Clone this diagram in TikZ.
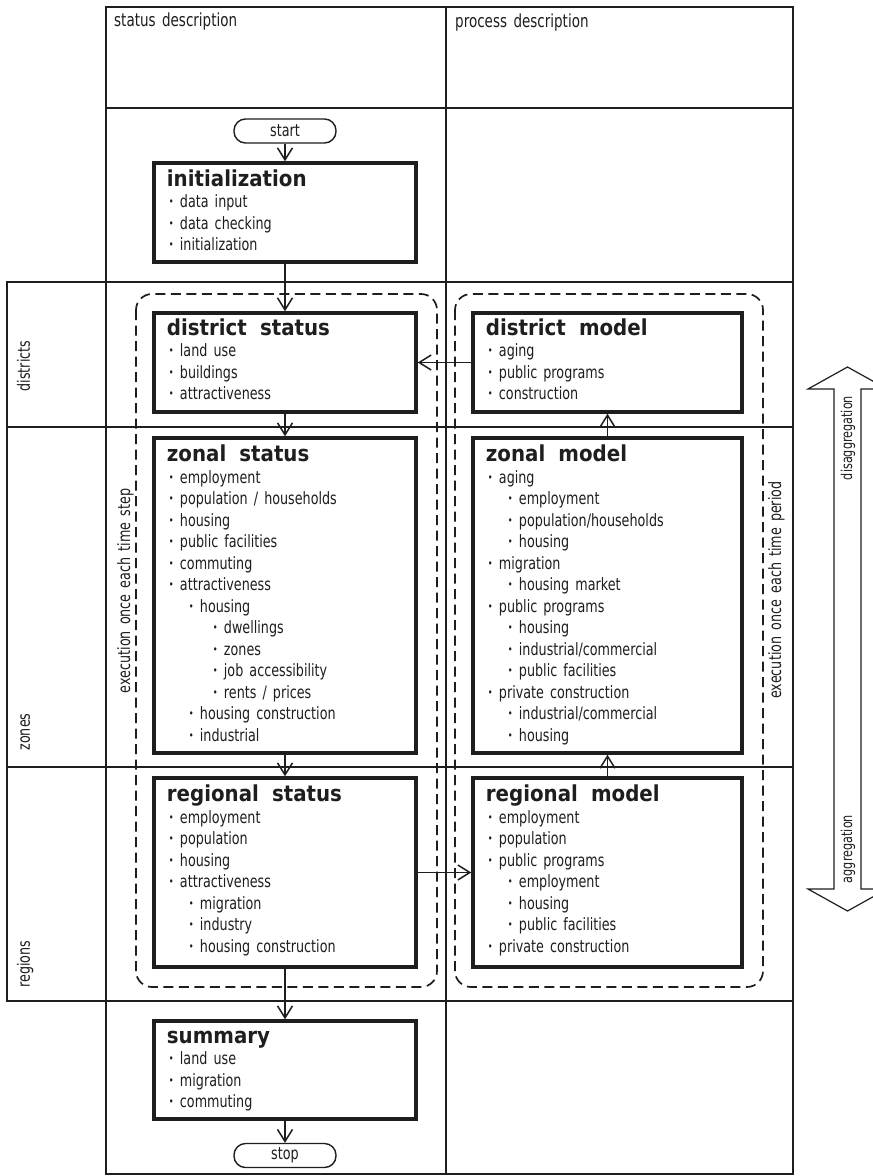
\documentclass[tikz,border=0pt]{standalone}
\usepackage{fontspec}
\setmainfont{DejaVu Sans}[FakeStretch=0.75, WordSpace=1.5]
\newfontfamily\headfont{DejaVu Sans}[FakeStretch=0.9, WordSpace=1.9]
\usetikzlibrary{arrows.meta}

\definecolor{ink}{RGB}{30,30,30}

% text helpers for the boxes
\newcommand\dotmark{\raisebox{2.2pt}{\fontsize{11}{11}\selectfont\char"2022}}
\newcommand\itm[2]{\hspace*{#1}\makebox[11pt][l]{\dotmark}#2\par}
\newcommand\la[1]{\itm{2pt}{#1}}
\newcommand\lb[1]{\itm{22pt}{#1}}
\newcommand\lc[1]{\itm{46pt}{#1}}
\newcommand\hd[1]{{\headfont\bfseries\fontsize{22}{21.5}\selectfont #1\par}}
\newcommand\panel[1]{\begin{minipage}[t]{250pt}\fontsize{17}{21.5}\selectfont #1\end{minipage}}

\tikzset{
  grid/.style={draw=ink, line width=1.2pt},
  modbox/.style={draw=ink, line width=3.5pt, rectangle, inner sep=0pt},
  terminal/.style={draw=ink, line width=1.4pt, rounded corners=11.5pt,
    minimum width=102pt, minimum height=24pt, inner sep=0pt, text=ink,
    font=\fontsize{17}{18}\selectfont},
  flow/.style={draw=ink, line width=1.5pt,
    -{Straight Barb[length=12pt, width=15pt, line width=1.5pt]}},
  loopframe/.style={draw=ink, line width=1.7pt, dash pattern=on 10pt off 5.5pt,
    rounded corners=16pt},
  txt/.style={inner sep=0pt, anchor=base west, text=ink},
  hdr/.style={inner sep=0pt, anchor=base west, text=ink,
    font=\fontsize{18}{18}\selectfont},
  sidelabel/.style={rotate=90, anchor=base, inner sep=0pt, text=ink,
    font=\fontsize{17}{18}\selectfont},
}

\begin{document}
\begin{tikzpicture}[x=1pt,y=-1pt]
\useasboundingbox (0,0) rectangle (873,1176);
\clip (0,0) rectangle (873,1176);
\fill[white] (0,0) rectangle (873,1176);

% table frame and rows
\draw[grid] (106,7) rectangle (793,1174);
\draw[grid] (446,7) -- (446,1174);
\draw[grid] (106,108) -- (793,108);
\draw[grid] (7,282) rectangle (793,1001);
\draw[grid] (7,427) -- (793,427);
\draw[grid] (7,767) -- (793,767);

% column headers
\node[hdr] (hdrStatus) at (114,26) {status description};
\node[hdr] (hdrProcess) at (455,27) {process description};

% level labels
\node[sidelabel] (lvlDistricts) at (30,366) {districts};
\node[sidelabel] (lvlZones) at (30,732) {zones};
\node[sidelabel] (lvlRegions) at (30,964) {regions};

% loops
\draw[loopframe] (136,294) rectangle (437,987);
\draw[loopframe] (455,294) rectangle (763,987);
\node[sidelabel] (loopStep) at (130,591) {execution once each time step};
\node[sidelabel] (loopPeriod) at (781,590) {execution once each time period};

% aggregation / disaggregation arrow
\draw[grid] (847.5,367) -- (808,389) -- (834,389) -- (834,889) -- (808,889)
  -- (847.5,911) -- (887,889) -- (861,889) -- (861,389) -- (887,389) -- cycle;
\node[sidelabel, font=\fontsize{15}{16}\selectfont] (lblDisagg) at (852,438) {disaggregation};
\node[sidelabel, font=\fontsize{15}{16}\selectfont] (lblAgg) at (852,849) {aggregation};

% terminals
\node[terminal] (start) at (285,131) {start};
\node[terminal] (stop) at (285,1155.5) {stop};

% status column
\node[modbox, minimum width=262pt, minimum height=99pt] (init) at (285,212.5) {};
\node[txt] (initT) at ([shift={(14.5,25)}]init.north west) {\panel{%
  \hd{initialization}
  \la{data input}
  \la{data checking}
  \la{initialization}}};

\node[modbox, minimum width=262pt, minimum height=99pt] (dstatus) at (285,362.5) {};
\node[txt] (dstatusT) at ([shift={(14.5,24)}]dstatus.north west) {\panel{%
  \hd{district status}
  \la{land use}
  \la{buildings}
  \la{attractiveness}}};

\node[modbox, minimum width=262pt, minimum height=315pt] (zstatus) at (285,595.5) {};
\node[txt] (zstatusT) at ([shift={(14.5,25.5)}]zstatus.north west) {\panel{%
  \hd{zonal status}
  \la{employment}
  \la{population / households}
  \la{housing}
  \la{public facilities}
  \la{commuting}
  \la{attractiveness}
  \lb{housing}
  \lc{dwellings}
  \lc{zones}
  \lc{job accessibility}
  \lc{rents / prices}
  \lb{housing construction}
  \lb{industrial}}};

\node[modbox, minimum width=262pt, minimum height=189pt] (rstatus) at (285,872.5) {};
\node[txt] (rstatusT) at ([shift={(14.5,25.5)}]rstatus.north west) {\panel{%
  \hd{regional status}
  \la{employment}
  \la{population}
  \la{housing}
  \la{attractiveness}
  \lb{migration}
  \lb{industry}
  \lb{housing construction}}};

\node[modbox, minimum width=262pt, minimum height=98pt] (summary) at (285,1070) {};
\node[txt] (summaryT) at ([shift={(14.5,24)}]summary.north west) {\panel{%
  \hd{summary}
  \la{land use}
  \la{migration}
  \la{commuting}}};

% process column
\node[modbox, minimum width=269pt, minimum height=99pt] (dmodel) at (607.5,362.5) {};
\node[txt] (dmodelT) at ([shift={(14.5,24)}]dmodel.north west) {\panel{%
  \hd{district model}
  \la{aging}
  \la{public programs}
  \la{construction}}};

\node[modbox, minimum width=269pt, minimum height=315pt] (zmodel) at (607.5,595.5) {};
\node[txt] (zmodelT) at ([shift={(14.5,25.5)}]zmodel.north west) {\panel{%
  \hd{zonal model}
  \la{aging}
  \lb{employment}
  \lb{population/households}
  \lb{housing}
  \la{migration}
  \lb{housing market}
  \la{public programs}
  \lb{housing}
  \lb{industrial/commercial}
  \lb{public facilities}
  \la{private construction}
  \lb{industrial/commercial}
  \lb{housing}}};

\node[modbox, minimum width=269pt, minimum height=189pt] (rmodel) at (607.5,872.5) {};
\node[txt] (rmodelT) at ([shift={(14.5,25.5)}]rmodel.north west) {\panel{%
  \hd{regional model}
  \la{employment}
  \la{population}
  \la{public programs}
  \lb{employment}
  \lb{housing}
  \lb{public facilities}
  \la{private construction}}};

% flow
\draw[flow] (start) -- (init);
\draw[flow] (init) -- (dstatus);
\draw[flow] (dstatus) -- (zstatus);
\draw[flow] (zstatus) -- (rstatus);
\draw[flow] (rstatus) -- (summary);
\draw[flow] (summary) -- (stop);
\draw[flow] (rstatus) -- (rmodel);
\draw[flow] (rmodel) -- (zmodel);
\draw[flow] (zmodel) -- (dmodel);
\draw[flow] (dmodel) -- (dstatus);
\end{tikzpicture}
\end{document}
